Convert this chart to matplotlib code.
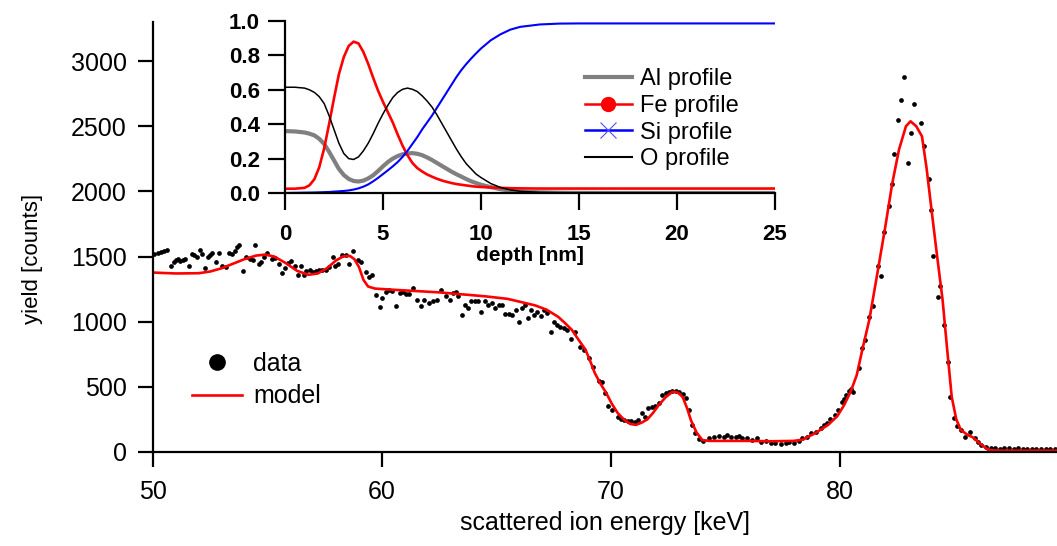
"""RBS spectrum with depth-profile inset"""

import matplotlib
matplotlib.use("Agg")
import matplotlib.pyplot as plt
from matplotlib.lines import Line2D

plt.rcParams["font.family"] = ["Liberation Sans", "DejaVu Sans"]

# measured spectrum (energy [keV], counts)
data_energy = [
    50.05, 50.2, 50.35, 50.5, 50.62, 50.77, 50.9, 51.0, 51.1, 51.2, 51.3, 51.42, 51.57,
    51.7, 51.8, 51.92, 52.05, 52.15, 52.28, 52.4, 52.5, 52.6, 52.75, 52.9, 53.02, 53.18,
    53.32, 53.45, 53.57, 53.68, 53.78, 53.92, 54.08, 54.22, 54.38, 54.48, 54.62, 54.72,
    54.85, 55.0, 55.2, 55.32, 55.5, 55.62, 55.78, 55.92, 56.05, 56.2, 56.32, 56.45, 56.58,
    56.7, 56.85, 56.98, 57.12, 57.27, 57.4, 57.55, 57.68, 57.85, 57.95, 58.1, 58.28, 58.42,
    58.57, 58.72, 58.95, 59.1, 59.3, 59.45, 59.58, 59.75, 59.9, 60.02, 60.18, 60.3, 60.45,
    60.6, 60.78, 60.92, 61.07, 61.2, 61.38, 61.55, 61.7, 61.85, 62.08, 62.22, 62.4, 62.58,
    62.8, 63.0, 63.12, 63.25, 63.35, 63.5, 63.65, 63.77, 63.9, 64.05, 64.2, 64.35, 64.5,
    64.65, 64.8, 64.95, 65.1, 65.25, 65.4, 65.55, 65.7, 65.85, 65.98, 66.12, 66.27, 66.37,
    66.52, 66.66, 66.8, 66.95, 67.1, 67.22, 67.38, 67.52, 67.66, 67.8, 67.95, 68.1, 68.25,
    68.42, 68.68, 68.85, 69.05, 69.22, 69.48, 69.6, 69.75, 69.9, 70.05, 70.3, 70.45, 70.6,
    70.75, 70.9, 71.05, 71.2, 71.35, 71.5, 71.65, 71.8, 71.95, 72.1, 72.25, 72.4, 72.55,
    72.7, 72.85, 73.0, 73.15, 73.3, 73.4, 73.55, 73.7, 73.88, 74.05, 74.28, 74.5, 74.72,
    74.93, 75.07, 75.25, 75.46, 75.6, 75.72, 75.94, 76.16, 76.38, 76.55, 76.77, 76.99,
    77.2, 77.42, 77.64, 77.77, 77.99, 78.21, 78.34, 78.56, 78.73, 78.95, 79.17, 79.3,
    79.45, 79.6, 79.82, 79.95, 80.1, 80.2, 80.3, 80.4, 80.5, 80.6, 80.83, 80.97, 81.12,
    81.3, 81.44, 81.7, 81.82, 81.95, 82.14, 82.27, 82.4, 82.55, 82.69, 82.83, 82.98, 83.13,
    83.25, 83.55, 83.71, 83.89, 83.99, 84.1, 84.3, 84.4, 84.57, 84.73, 84.83, 85.0, 85.15,
    85.3, 85.49, 85.7, 85.93, 86.07, 86.2, 86.4, 86.6, 86.8, 87.0, 87.2, 87.4, 87.6, 87.8,
    88.0, 88.2, 88.4, 88.6, 88.8, 89.0, 89.2, 89.4,
]
data_counts = [
    1520, 1530, 1535, 1545, 1548, 1425, 1460, 1475, 1480, 1465, 1470, 1480, 1425,
    1520, 1515, 1500, 1550, 1520, 1410, 1500, 1510, 1525, 1460, 1530, 1430, 1420,
    1525, 1520, 1545, 1570, 1585, 1390, 1500, 1480, 1470, 1590, 1440, 1460,
    1500, 1530, 1480, 1490, 1440, 1375, 1415, 1450, 1465, 1425, 1360, 1425, 1360,
    1390, 1400, 1380, 1390, 1400, 1395, 1400, 1420, 1500, 1425, 1445, 1515, 1510,
    1440, 1540, 1470, 1455, 1385, 1345, 1360, 1208, 1115, 1180, 1225, 1240, 1235,
    1123, 1220, 1230, 1210, 1215, 1255, 1165, 1120, 1165, 1140, 1160, 1170, 1240,
    1200, 1165, 1220, 1225, 1200, 1053, 1125, 1108, 1155, 1155, 1155, 1077, 1160,
    1125, 1145, 1108, 1125, 1130, 1060, 1060, 1055, 1090, 1000, 1108, 1130, 1030,
    1090, 1055, 1077, 1045, 1090, 1070, 923, 1000, 977, 962, 954, 938, 870,
    923, 808, 785, 720, 654, 546, 538, 454, 350, 320, 270, 255, 245,
    240, 235, 232, 245, 300, 270, 338, 346, 354, 377, 438, 454, 462,
    470, 470, 462, 446, 415, 323, 208, 146, 100, 85, 105, 113, 123,
    118, 131, 113, 118, 123, 105, 105, 92, 105, 79, 87, 72,
    67, 59, 67, 79, 72, 87, 105, 118, 144, 156, 182, 208,
    221, 250, 285, 323, 380, 410, 440, 470, 485, 460, 641, 795, 862,
    1038, 1118, 1430, 1354, 1687, 1887, 2054, 2285, 2549, 2702, 2877, 2215, 2446,
    2674, 2528, 2349, 2092, 1856, 1502, 1192, 1272, 977, 692, 425, 260, 200,
    170, 118, 156, 110, 79, 50, 38, 30, 28, 25, 30, 27, 25, 28,
    24, 26, 22, 25, 23, 22, 24, 22,
]

# simulated spectrum
model_energy = [
    50.0, 51.0, 52.0, 52.5, 53.0, 53.5, 54.0, 54.5, 54.9, 55.3, 55.8, 56.3, 56.8, 57.2,
    57.6, 58.0, 58.3, 58.6, 58.8, 59.0, 59.2, 59.4, 59.7, 60.5, 61.5, 62.5, 63.5, 64.5,
    65.5, 66.1, 66.7, 67.2, 67.7, 68.0, 68.3, 68.6, 68.9, 69.1, 69.3, 69.55, 69.8, 70.05,
    70.3, 70.6, 70.85, 71.1, 71.35, 71.6, 71.85, 72.1, 72.4, 72.7, 72.95, 73.15, 73.35,
    73.5, 73.75, 74.0, 74.3, 75.0, 76.0, 77.0, 78.0, 78.4, 78.95, 79.5, 79.9, 80.2, 80.5,
    80.75, 81.0, 81.3, 81.65, 82.0, 82.3, 82.6, 82.9, 83.1, 83.35, 83.6, 83.8, 84.0,
    84.25, 84.5, 84.7, 84.9, 85.1, 85.3, 85.6, 85.8, 86.1, 86.5, 87.0, 89.5,
]
model_counts = [
    1377, 1370, 1372, 1385, 1410, 1445, 1480, 1507, 1515, 1500, 1450, 1390, 1360, 1370,
    1410, 1470, 1500, 1505, 1480, 1420, 1320, 1270, 1254, 1245, 1235, 1225, 1210, 1195,
    1175, 1150, 1125, 1092, 1038, 990, 938, 860, 785, 700, 608, 525, 454, 370,
    300, 245, 215, 208, 225, 250, 300, 360, 420, 462, 455, 420, 330,
    246, 150, 92, 85, 85, 85, 82, 85, 95, 146, 208, 275, 360, 470,
    590, 790, 1015, 1370, 1731, 2060, 2323, 2500, 2538, 2500, 2423, 2180, 1885,
    1520, 1169, 790, 423, 250, 169, 130, 115, 70, 15, 10, 10,
]

# depth profiles (inset)
depth = [0, 0.5, 1,
         1.25, 1.5, 1.75, 2, 2.25, 2.5, 2.75, 3, 3.25, 3.5, 3.75, 4,
         4.25, 4.5, 4.75, 5, 5.25, 5.5, 5.75, 6, 6.25, 6.5, 6.75, 7,
         7.25, 7.5, 7.75, 8, 8.25, 8.5, 8.75, 9, 9.25, 9.5, 9.75, 10,
         10.5, 11, 11.5, 12, 13, 14, 15, 17, 20, 25]
al_profile = [0.36, 0.358, 0.352,
              0.345, 0.335, 0.315, 0.285, 0.24, 0.19, 0.14, 0.105, 0.082, 0.07, 0.067, 0.072,
              0.085, 0.103, 0.128, 0.155, 0.18, 0.2, 0.215, 0.225, 0.23, 0.232, 0.228, 0.22,
              0.207, 0.192, 0.175, 0.158, 0.141, 0.124, 0.109, 0.095, 0.081, 0.068, 0.058, 0.048,
              0.034, 0.022, 0.014, 0.009, 0.004, 0.002, 0.001, 0.0, 0.0, 0.0]
fe_profile = [0.025, 0.025, 0.03,
              0.045, 0.08, 0.15, 0.26, 0.4, 0.55, 0.69, 0.79, 0.855, 0.88, 0.87, 0.82,
              0.75, 0.67, 0.595, 0.53, 0.47, 0.41, 0.34, 0.275, 0.22, 0.175, 0.145, 0.125,
              0.108, 0.095, 0.083, 0.073, 0.065, 0.058, 0.052, 0.048, 0.044, 0.04, 0.037, 0.035,
              0.032, 0.03, 0.028, 0.027, 0.026, 0.026, 0.026, 0.026, 0.026, 0.026]
si_profile = [0.0, 0.001, 0.002,
              0.0025, 0.003, 0.004, 0.005, 0.006, 0.008, 0.01, 0.012, 0.015, 0.02, 0.027, 0.037,
              0.05, 0.068, 0.088, 0.11, 0.132, 0.155, 0.18, 0.21, 0.245, 0.285, 0.325, 0.37,
              0.41, 0.45, 0.495, 0.54, 0.585, 0.63, 0.675, 0.715, 0.75, 0.782, 0.812, 0.84,
              0.888, 0.923, 0.95, 0.966, 0.98, 0.985, 0.986, 0.986, 0.986, 0.986]
o_profile = [0.615, 0.615, 0.61,
             0.6, 0.585, 0.56, 0.52, 0.45, 0.37, 0.29, 0.23, 0.2, 0.195, 0.21, 0.245,
             0.29, 0.345, 0.405, 0.46, 0.51, 0.555, 0.585, 0.603, 0.61, 0.603, 0.59, 0.565,
             0.535, 0.5, 0.455, 0.405, 0.355, 0.305, 0.255, 0.21, 0.17, 0.14, 0.11, 0.09,
             0.055, 0.032, 0.018, 0.01, 0.004, 0.002, 0.001, 0.0, 0.0, 0.0]


def style_axes(ax, size, bold=False, length=11, pad=8):
    """Igor-like axes: left and bottom only, ticks outward"""
    for side in ["top", "right"]:
        ax.spines[side].set_visible(False)
    for side in ["left", "bottom"]:
        ax.spines[side].set_linewidth(1.6)
    ax.tick_params(direction="out", length=length, width=1.6, pad=pad, labelsize=size)
    if bold:
        for lab in ax.get_xticklabels() + ax.get_yticklabels():
            lab.set_fontweight("bold")


fig = plt.figure(figsize=(10.57, 5.46), dpi=100)

# main spectrum
ax = fig.add_axes([0.1447, 0.1722, 0.8553, 0.7875])
ax.plot(data_energy, data_counts, "o", color="black", markersize=3.4, markeredgewidth=0)
ax.plot(model_energy, model_counts, color="red", linewidth=1.9)
ax.set_xlim(50, 89.5)
ax.set_ylim(0, 3300)
ax.set_xticks([50, 60, 70, 80])
ax.set_yticks([0, 500, 1000, 1500, 2000, 2500, 3000])
style_axes(ax, 18, length=11, pad=8)
ax.tick_params(axis="x", pad=9)
ax.set_xlabel("scattered ion energy [keV]", fontsize=18, labelpad=5)
ax.set_ylabel("yield [counts]", fontsize=16)
ax.yaxis.set_label_coords(-0.122, 0.45)

handles = [Line2D([], [], linestyle="none", marker="o", color="black", markersize=11),
           Line2D([], [], color="red", linewidth=1.9)]
ax.legend(handles, ["data", "model"], loc="upper left", bbox_to_anchor=(0.043, 0.232),
          frameon=False, fontsize=18, handlelength=2.0, handletextpad=0.45,
          labelspacing=0.33, borderpad=0, borderaxespad=0)

# inset with the depth profiles
ins = fig.add_axes([0.2696, 0.6465, 0.4636, 0.315], facecolor="none")
ins.plot(depth, al_profile, color="#808080", linewidth=3)
ins.plot(depth, fe_profile, color="red", linewidth=1.9)
ins.plot(depth, si_profile, color="blue", linewidth=1.5)
ins.plot(depth, o_profile, color="black", linewidth=1.1)
ins.set_xlim(0, 25)
ins.set_ylim(0, 1.0)
ins.set_xticks([0, 5, 10, 15, 20, 25])
ins.set_yticks([0.0, 0.2, 0.4, 0.6, 0.8, 1.0])
ins.set_yticklabels(["0.0", "0.2", "0.4", "0.6", "0.8", "1.0"])
style_axes(ins, 16, bold=True, length=12, pad=6)
ins.tick_params(axis="x", pad=10)
ins.set_xlabel("depth [nm]", fontsize=15, fontweight="bold", labelpad=1)

ins_handles = [Line2D([], [], color="#808080", linewidth=3),
               Line2D([], [], color="red", linewidth=1.8, marker="o", markersize=10),
               Line2D([], [], color="blue", linewidth=1.8, marker="x", markersize=11,
                      markeredgewidth=0.8, markeredgecolor="#5050ff"),
               Line2D([], [], color="black", linewidth=1.5)]
ins.legend(ins_handles, ["Al profile", "Fe profile", "Si profile", "O profile"],
           loc="upper left", bbox_to_anchor=(0.612, 0.725), frameon=False, fontsize=17,
           handlelength=2.0, handletextpad=0.35, labelspacing=0.2, borderpad=0,
           borderaxespad=0)

fig.savefig("out.png", dpi=100)
